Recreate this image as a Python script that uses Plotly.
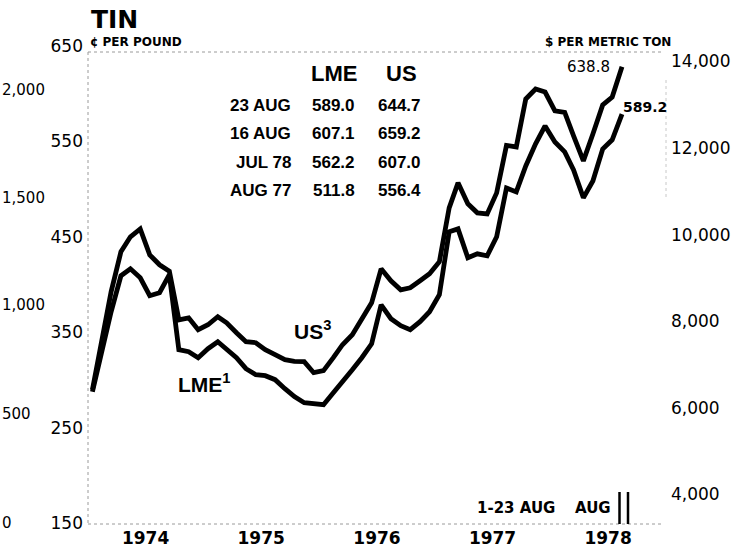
import pandas as pd
import plotly.graph_objects as go

# Monthly averages, Jan 1974 - Jul 1978, plus the 1-23 Aug 1978 average (¢ per pound)
months = pd.date_range("1974-01-01", periods=56, freq="MS") + pd.Timedelta(days=14)

us_price = [
    300.6, 352.9, 403.1, 445.0, 460.7, 469.0, 441.8, 431.4, 424.6, 373.8, 375.9, 363.4,
    368.6, 377.0, 370.7, 360.3, 350.8, 349.8, 342.5, 337.2, 332.0, 330.2, 329.9, 318.4,
    320.5, 334.1, 347.7, 358.2, 374.9, 391.6, 427.2, 414.6, 405.2, 407.3, 414.6, 422.0,
    434.5, 491.0, 517.2, 495.2, 485.8, 484.7, 506.7, 556.4, 554.8, 605.0, 615.5, 612.3,
    592.5, 590.9, 566.3, 540.2, 568.4, 598.7, 607.0, 638.8,
]
lme_price = [
    298.5, 342.5, 382.2, 419.9, 427.2, 417.8, 399.0, 402.1, 421.0, 342.5, 340.4, 334.1,
    343.5, 350.8, 343.5, 334.1, 322.6, 316.3, 315.3, 311.1, 301.7, 293.3, 287.0, 286.0,
    284.9, 297.5, 310.0, 321.5, 334.1, 348.7, 389.5, 374.9, 367.6, 363.4, 371.8, 382.2,
    400.0, 465.9, 469.0, 438.7, 442.9, 440.8, 460.7, 511.8, 507.7, 534.9, 558.0, 576.8,
    560.0, 549.6, 530.8, 501.5, 519.2, 552.7, 562.2, 589.2,
]

year_ticks = ["1974-07-02", "1975-07-02", "1976-07-02", "1977-07-02", "1978-07-02"]
year_labels = ["1974", "1975", "1976", "1977", "1978"]

cents_ticks = [150, 250, 350, 450, 550, 650]
dollar_ticks = [4000, 6000, 8000, 10000, 12000, 14000]

table_rows = ["23 AUG", "16 AUG", "JUL 78", "AUG 77"]
table_lme = ["589.0", "607.1", "562.2", "511.8"]
table_us = ["644.7", "659.2", "607.0", "556.4"]

# labels of the neighbouring panel's axis at the left edge
side_labels = ["2,000", "1,500", "1,000", "500", "0"]

CENTS_TO_DOLLARS_PER_TON = 22.0462
Y_RANGE = [149.5, 654.2]

W, H = 736, 549
L, R, T, B = 88, 70, 52, 15
PW, PH = W - L - R, H - T - B


def px(x):
    return (x - L) / PW


def py(y):
    return (H - B - y) / PH


SANS = "DejaVu Sans"
HELV = "Liberation Sans"

fig = go.Figure()
fig.add_trace(go.Scatter(x=months, y=us_price, mode="lines",
                         line=dict(color="black", width=4.8), name="US",
                         hoverinfo="skip"))
fig.add_trace(go.Scatter(x=months, y=lme_price, mode="lines",
                         line=dict(color="black", width=4.8), name="LME",
                         hoverinfo="skip"))
# invisible trace carrying the $/metric ton axis
fig.add_trace(go.Scatter(x=[months[0]], y=[Y_RANGE[0] * CENTS_TO_DOLLARS_PER_TON],
                         yaxis="y2", mode="markers", marker=dict(opacity=0),
                         showlegend=False, hoverinfo="skip"))

annotations = []


def text(x, y, s, size, family=SANS, bold=False, anchor="center", color="black"):
    annotations.append(dict(
        x=px(x), y=py(y), xref="paper", yref="paper", text=s, showarrow=False,
        xanchor=anchor, yanchor="middle",
        font=dict(family=family, size=size, color=color,
                  weight="bold" if bold else "normal")))


text(89, 19, "TIN", 25, bold=True, anchor="left")
text(88, 42, "¢ PER POUND", 12, bold=True, anchor="left")
text(608, 42, "$ PER METRIC TON", 12, bold=True)

text(334, 74, "LME", 22, family=HELV, bold=True)
text(401, 74, "US", 22, family=HELV, bold=True)
for i, row in enumerate(table_rows):
    yy = 105 + i * 28.5
    text(293, yy, row, 17, family=HELV, bold=True, anchor="right")
    text(357, yy, table_lme[i], 17, family=HELV, bold=True, anchor="right")
    text(423, yy, table_us[i], 17, family=HELV, bold=True, anchor="right")

text(612, 67, f"{us_price[-1]:.1f}", 15, anchor="right")
text(621, 107, f"{lme_price[-1]:.1f}", 14, bold=True, anchor="left")

text(292, 330, "US<sup>3</sup>", 21, family=HELV, bold=True, anchor="left")
text(176, 383, "LME<sup>1</sup>", 21, family=HELV, bold=True, anchor="left")

text(475, 508, "1-23 AUG", 15, bold=True, anchor="left")
text(573, 508, "AUG", 15, bold=True, anchor="left")

for lab, yy in zip(side_labels, [90, 198, 305, 414, 523]):
    text(0, yy, lab, 15, anchor="left")

dot = dict(color="#9a9a9a", width=1, dash="dot")
shapes = [
    dict(type="line", xref="paper", yref="paper", x0=px(88), x1=px(662),
         y0=py(52), y1=py(52), line=dot),
    dict(type="line", xref="paper", yref="paper", x0=px(88), x1=px(662),
         y0=py(524), y1=py(524), line=dot),
    dict(type="line", xref="paper", yref="paper", x0=px(88), x1=px(88),
         y0=py(52), y1=py(524), line=dot),
    dict(type="line", xref="paper", yref="paper", x0=px(666), x1=px(666),
         y0=py(80), y1=py(200), line=dict(color="#c8c8c8", width=1, dash="dot")),
    dict(type="line", xref="paper", yref="paper", x0=px(619.5), x1=px(619.5),
         y0=py(492), y1=py(524), line=dict(color="black", width=2.5)),
    dict(type="line", xref="paper", yref="paper", x0=px(628), x1=px(628),
         y0=py(492), y1=py(524), line=dict(color="black", width=2.5)),
]

fig.update_layout(
    width=W, height=H,
    margin=dict(l=L, r=R, t=T, b=B, autoexpand=False),
    paper_bgcolor="white", plot_bgcolor="white",
    showlegend=False,
    font=dict(family=SANS, color="black"),
    xaxis=dict(
        type="date", range=["1974-01-01", "1979-01-01"],
        tickmode="array", tickvals=year_ticks, ticktext=year_labels,
        showgrid=False, zeroline=False, showline=False, ticks="",
        tickfont=dict(family=SANS, size=17, weight="bold"),
        ticklabelstandoff=-8,
    ),
    yaxis=dict(
        range=Y_RANGE, tickmode="array", tickvals=cents_ticks,
        showgrid=False, zeroline=False, showline=False, ticks="",
        tickfont=dict(family=SANS, size=17),
        ticklabelshift=-10, ticklabelstandoff=4,
    ),
    yaxis2=dict(
        overlaying="y", side="right",
        range=[v * CENTS_TO_DOLLARS_PER_TON for v in Y_RANGE],
        tickmode="array", tickvals=dollar_ticks, tickformat=",d",
        showgrid=False, zeroline=False, showline=False, ticks="",
        tickfont=dict(family=SANS, size=17),
        ticklabelshift=-9, ticklabelstandoff=4,
    ),
    annotations=annotations,
    shapes=shapes,
)

fig.write_html("out.html")
